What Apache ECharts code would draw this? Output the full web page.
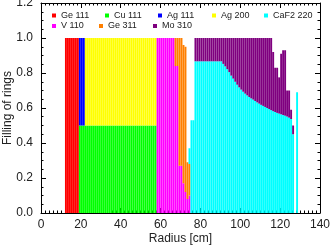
<!DOCTYPE html>
<html><head><meta charset="utf-8">
<script src="https://cdn.jsdelivr.net/npm/echarts@6/dist/echarts.min.js"></script>
<style>html,body{margin:0;padding:0;background:#fff}#c{width:332px;height:249px}</style>
</head><body><div id="c"></div>
<script>
// Ring bin centres [cm] (one ring per cm over the plotted range 0..140)
const radius = [0.5,1.5,2.5,3.5,4.5,5.5,6.5,7.5,8.5,9.5,10.5,11.5,12.5,13.5,14.5,15.5,16.5,17.5,18.5,19.5,20.5,21.5,22.5,23.5,24.5,25.5,26.5,27.5,28.5,29.5,30.5,31.5,32.5,33.5,34.5,35.5,36.5,37.5,38.5,39.5,40.5,41.5,42.5,43.5,44.5,45.5,46.5,47.5,48.5,49.5,50.5,51.5,52.5,53.5,54.5,55.5,56.5,57.5,58.5,59.5,60.5,61.5,62.5,63.5,64.5,65.5,66.5,67.5,68.5,69.5,70.5,71.5,72.5,73.5,74.5,75.5,76.5,77.5,78.5,79.5,80.5,81.5,82.5,83.5,84.5,85.5,86.5,87.5,88.5,89.5,90.5,91.5,92.5,93.5,94.5,95.5,96.5,97.5,98.5,99.5,100.5,101.5,102.5,103.5,104.5,105.5,106.5,107.5,108.5,109.5,110.5,111.5,112.5,113.5,114.5,115.5,116.5,117.5,118.5,119.5,120.5,121.5,122.5,123.5,124.5,125.5,126.5,127.5,128.5,129.5,130.5,131.5,132.5,133.5,134.5,135.5,136.5,137.5,138.5,139.5];

// Filling per ring: [radius, value]
const ge111 = [[12.5,1],[13.5,1],[14.5,1],[15.5,1],[16.5,1],[17.5,1],[18.5,1]];
const cu111 = [[19.5,.5],[20.5,.5],[21.5,.5],[22.5,.5],[23.5,.5],[24.5,.5],[25.5,.5],[26.5,.5],[27.5,.5],[28.5,.5],[29.5,.5],[30.5,.5],[31.5,.5],[32.5,.5],[33.5,.5],[34.5,.5],[35.5,.5],[36.5,.5],[37.5,.5],[38.5,.5],[39.5,.5],[40.5,.5],[41.5,.5],[42.5,.5],[43.5,.5],[44.5,.5],[45.5,.5],[46.5,.5],[47.5,.5],[48.5,.5],[49.5,.5],[50.5,.5],[51.5,.5],[52.5,.5],[53.5,.5],[54.5,.5],[55.5,.5],[56.5,.5],[57.5,.5]];
const ag111 = [[19.5,.5],[20.5,.5],[21.5,.5]];
const ag200 = [[22.5,.5],[23.5,.5],[24.5,.5],[25.5,.5],[26.5,.5],[27.5,.5],[28.5,.5],[29.5,.5],[30.5,.5],[31.5,.5],[32.5,.5],[33.5,.5],[34.5,.5],[35.5,.5],[36.5,.5],[37.5,.5],[38.5,.5],[39.5,.5],[40.5,.5],[41.5,.5],[42.5,.5],[43.5,.5],[44.5,.5],[45.5,.5],[46.5,.5],[47.5,.5],[48.5,.5],[49.5,.5],[50.5,.5],[51.5,.5],[52.5,.5],[53.5,.5],[54.5,.5],[55.5,.5],[56.5,.5],[57.5,.5]];
const v110 = [[58.5,1],[59.5,1],[60.5,1],[61.5,1],[62.5,1],[63.5,1],[64.5,1],[65.5,1],[66.5,1],[67.5,.84],[68.5,.84],[69.5,.27],[70.5,.27],[71.5,.17],[72.5,.12],[73.5,.08],[74.5,.10]];
const ge311 = [[67.5,.16],[68.5,.16],[69.5,.73],[70.5,.73],[71.5,.79],[72.5,.83],[73.5,.21],[74.5,.18]];
const caf2 = [[74.5,.09],[75.5,.53],[76.5,.53],[77.5,.867],[78.5,.867],[79.5,.867],[80.5,.867],[81.5,.867],[82.5,.867],[83.5,.867],[84.5,.867],[85.5,.867],[86.5,.867],[87.5,.867],[88.5,.867],[89.5,.867],[90.5,.867],[91.5,.852],[92.5,.838],[93.5,.822],[94.5,.805],[95.5,.785],[96.5,.768],[97.5,.75],[98.5,.733],[99.5,.718],[100.5,.705],[101.5,.693],[102.5,.682],[103.5,.672],[104.5,.663],[105.5,.655],[106.5,.648],[107.5,.64],[108.5,.632],[109.5,.625],[110.5,.618],[111.5,.612],[112.5,.606],[113.5,.6],[114.5,.594],[115.5,.588],[116.5,.582],[117.5,.577],[118.5,.572],[119.5,.568],[120.5,.564],[121.5,.56],[122.5,.556],[123.5,.551],[124.5,.545],[125.5,.537],[126.5,.45],[128.5,.69]];
const mo310 = [[77.5,.133],[78.5,.133],[79.5,.133],[80.5,.133],[81.5,.133],[82.5,.133],[83.5,.133],[84.5,.133],[85.5,.133],[86.5,.133],[87.5,.133],[88.5,.133],[89.5,.133],[90.5,.133],[91.5,.148],[92.5,.162],[93.5,.178],[94.5,.195],[95.5,.215],[96.5,.232],[97.5,.25],[98.5,.267],[99.5,.282],[100.5,.295],[101.5,.307],[102.5,.318],[103.5,.328],[104.5,.337],[105.5,.345],[106.5,.352],[107.5,.36],[108.5,.368],[109.5,.375],[110.5,.382],[111.5,.388],[112.5,.394],[113.5,.4],[114.5,.406],[115.5,.412],[116.5,.338],[117.5,.253],[118.5,.258],[119.5,.207],[120.5,.346],[121.5,.37],[122.5,.374],[123.5,.149],[124.5,.155],[125.5,.053],[126.5,.05]];

const seriesNames = ['Ge 111','Cu 111','Ag 111','Ag 200','CaF2 220','V 110','Ge 311','Mo 310'];
const seriesColors = ['#ff0000','#00ff00','#0000ff','#ffff00','#00ffff','#ff00ff','#ff7f00','#7f007f'];
const seriesData = {'Ge 111':ge111,'Cu 111':cu111,'Ag 111':ag111,'Ag 200':ag200,'CaF2 220':caf2,'V 110':v110,'Ge 311':ge311,'Mo 310':mo310};
const stackOrder = ['Ge 111','Cu 111','Ag 111','Ag 200','V 110','Ge 311','CaF2 220','Mo 310'];
const xTicks = [0,20,40,60,80,100,120,140];
const yTicks = [0,0.2,0.4,0.6,0.8,1.0,1.2];

function aligned(pairs){
  const m = new Map(pairs.map(p=>[p[0],p[1]]));
  return radius.map(r=> m.has(r)? m.get(r) : 0);
}
const FONT = 'Liberation Sans';
const TXT = '#222';
const legendPos = {
  'Ge 111':[52,11],'Cu 111':[105,11],'Ag 111':[158,11],'Ag 200':[212,11],'CaF2 220':[264,11],
  'V 110':[52,21.5],'Ge 311':[99,21.5],'Mo 310':[153,21.5]
};
const legends = seriesNames.map(n=>({
  data:[n], left:legendPos[n][0], top:legendPos[n][1], padding:0, itemGap:0,
  itemWidth:4, itemHeight:4, icon:'rect', selectedMode:false,
  textStyle:{fontSize:9, color:TXT, fontFamily:FONT}
}));
const axisCommon = {
  axisLine:{show:true, onZero:false, lineStyle:{color:'#000', width:1}},
  axisTick:{show:true, inside:true, length:5, lineStyle:{color:'#000'}},
  splitLine:{show:false}
};
const chart = echarts.init(document.getElementById('c'), null, {renderer:'canvas'});
chart.setOption({
  animation:false,
  backgroundColor:'#fff',
  color: seriesColors,
  legend: legends,
  grid:{left:41, right:12, top:3, bottom:36, containLabel:false, outerBoundsMode:'none'},
  xAxis:[
    {type:'category', data:radius, boundaryGap:true, show:false},
    Object.assign({type:'value', min:xTicks[0], max:xTicks[xTicks.length-1], interval:20, position:'bottom',
      name:'Radius [cm]', nameLocation:'middle', nameGap:20, nameMoveOverlap:false,
      nameTextStyle:{fontSize:12, color:TXT, fontFamily:FONT},
      axisLabel:{fontSize:12, color:TXT, fontFamily:FONT, margin:6}}, axisCommon,
      {minorTick:{show:true, splitNumber:10, length:2.5, lineStyle:{color:'#000'}}}),
    Object.assign({type:'value', min:xTicks[0], max:xTicks[xTicks.length-1], interval:20, position:'top',
      axisLabel:{show:false}}, axisCommon,
      {minorTick:{show:true, splitNumber:10, length:2.5, lineStyle:{color:'#000'}}})
  ],
  yAxis:[
    Object.assign({type:'value', min:yTicks[0], max:yTicks[yTicks.length-1], interval:0.2, position:'left',
      name:'Filling of rings', nameLocation:'middle', nameGap:27, nameMoveOverlap:false,
      nameTextStyle:{fontSize:12, color:TXT, fontFamily:FONT},
      axisLabel:{fontSize:12, color:TXT, fontFamily:FONT, margin:8, formatter:v=>v.toFixed(1)}}, axisCommon,
      {minorTick:{show:true, splitNumber:4, length:2.5, lineStyle:{color:'#000'}}}),
    Object.assign({type:'value', min:yTicks[0], max:yTicks[yTicks.length-1], interval:0.2, position:'right',
      axisLabel:{show:false}}, axisCommon,
      {minorTick:{show:true, splitNumber:4, length:2.5, lineStyle:{color:'#000'}}})
  ],
  series: stackOrder.map(n=>({
    name:n, type:'bar', stack:'rings', xAxisIndex:0, yAxisIndex:0,
    barWidth:'96%',
    itemStyle:{color: seriesColors[seriesNames.indexOf(n)]},
    data: aligned(seriesData[n])
  }))
});
</script></body></html>
